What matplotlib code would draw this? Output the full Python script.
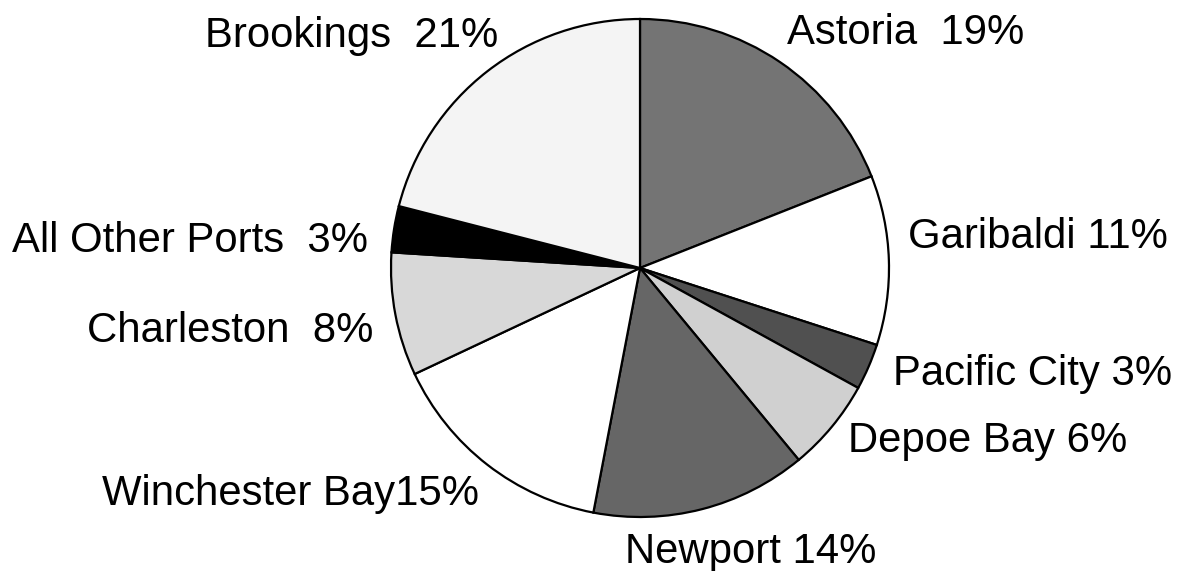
import matplotlib
matplotlib.use("Agg")
import matplotlib.pyplot as plt

ports = ["Astoria", "Garibaldi", "Pacific City", "Depoe Bay", "Newport",
         "Winchester Bay", "Charleston", "All Other Ports", "Brookings"]
shares = [19, 11, 3, 6, 14, 15, 8, 3, 21]
label_texts = ["Astoria  19%", "Garibaldi 11%", "Pacific City 3%", "Depoe Bay 6%",
               "Newport 14%", "Winchester Bay15%", "Charleston  8%",
               "All Other Ports  3%", "Brookings  21%"]
colors = ["#747474", "#ffffff", "#505050", "#d0d0d0", "#666666",
          "#ffffff", "#d8d8d8", "#000000", "#f4f4f4"]

W, H = 1191, 571
fig = plt.figure(figsize=(W / 100, H / 100), dpi=100)
ax = fig.add_axes([0, 0, 1, 1])

cx, cy, r = 640, H - 268, 249
ax.pie(shares, colors=colors, startangle=90, counterclock=False,
       center=(cx, cy), radius=r, frame=True,
       wedgeprops=dict(edgecolor="black", linewidth=1.6))

# label anchor positions (left x, baseline y in image pixel coords)
label_pos = [(787, 44), (908, 248), (893, 385), (848, 452), (625, 563),
             (102, 505), (87, 342), (12, 252), (205, 47)]
for txt, (x, y) in zip(label_texts, label_pos):
    ax.text(x, H - y, txt, ha="left", va="baseline", fontsize=30.2,
            family="Liberation Sans", color="black")

ax.set_xlim(0, W)
ax.set_ylim(0, H)
ax.set_aspect("equal")
ax.axis("off")
fig.savefig("out.png", dpi=100, facecolor="white")
